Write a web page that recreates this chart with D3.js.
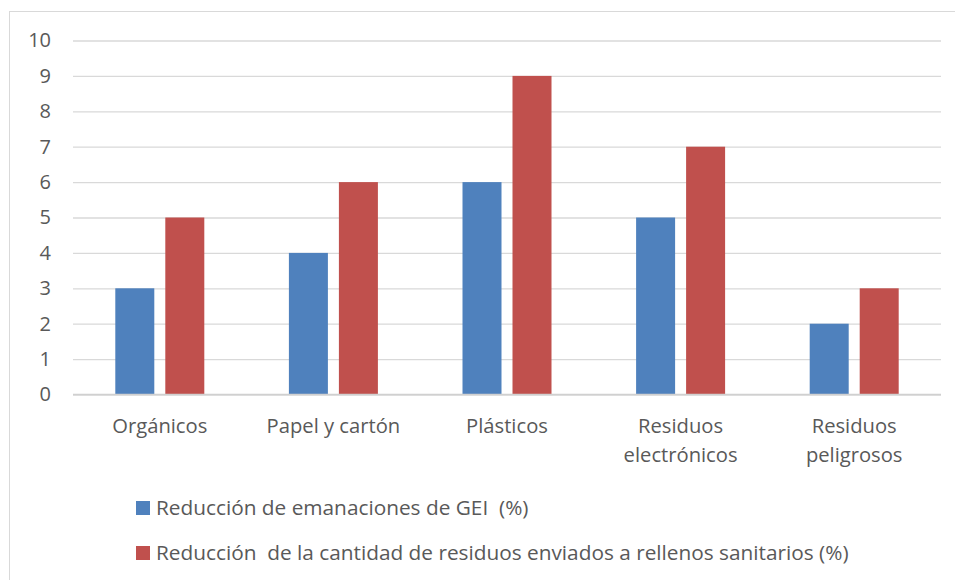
<!DOCTYPE html>
<html>
<head>
<meta charset="utf-8">
<script src="https://cdn.jsdelivr.net/npm/d3@7"></script>
<style>
  html, body { margin: 0; padding: 0; background: #fff; }
  svg { display: block; }
  text { font-family: "Open Sans", sans-serif; fill: #595959; }
</style>
</head>
<body>
<svg id="chart" width="955" height="580"></svg>
<script>
// Chart data
const categories = ["Orgánicos", "Papel y cartón", "Plásticos", "Residuos electrónicos", "Residuos peligrosos"];
const categoryLines = [["Orgánicos"], ["Papel y cartón"], ["Plásticos"], ["Residuos", "electrónicos"], ["Residuos", "peligrosos"]];
const seriesNames = [
  "Reducción de emanaciones de GEI  (%)",
  "Reducción  de la cantidad de residuos enviados a rellenos sanitarios (%)"
];
const emisionesGEI = [3, 4, 6, 5, 2];
const residuosRellenos = [5, 6, 9, 7, 3];
const yTicks = [0, 1, 2, 3, 4, 5, 6, 7, 8, 9, 10];
const seriesColors = ["#4F81BD", "#C0504D"];

const FONT = "'Open Sans', sans-serif";
const FS = 20.8;

const svg = d3.select("#chart");

// Outer frame
svg.append("rect")
  .attr("x", 9.5).attr("y", 11.5)
  .attr("width", 960).attr("height", 600)
  .attr("fill", "none").attr("stroke", "#d9d9d9").attr("stroke-width", 1);

const plot = { left: 73, right: 941, top: 40.5, bottom: 394.5 };

const y = d3.scaleLinear().domain([0, 10]).range([plot.bottom, plot.top]);

const groupWidth = 89;
const step = (plot.right - plot.left) / categories.length;
const x0 = d3.scaleBand()
  .domain(categories)
  .range([plot.left, plot.right])
  .paddingInner(1 - groupWidth / step)
  .paddingOuter((1 - groupWidth / step) / 2);

const x1 = d3.scaleBand()
  .domain([0, 1])
  .range([0, x0.bandwidth()])
  .paddingInner(0.22)
  .paddingOuter(0);

// Gridlines and value labels
const yAxis = d3.axisLeft(y)
  .tickValues(yTicks)
  .tickSize(-(plot.right - plot.left))
  .tickPadding(22)
  .tickFormat(d3.format("d"));

const gy = svg.append("g")
  .attr("transform", `translate(${plot.left},0)`)
  .call(yAxis);
gy.select(".domain").remove();
gy.selectAll(".tick line")
  .attr("stroke", "#d9d9d9")
  .attr("stroke-width", 1.3);
gy.selectAll(".tick text")
  .attr("font-size", 20)
  .attr("fill", "#595959")
  .attr("font-family", FONT);

// Bars
const series = [emisionesGEI, residuosRellenos];
const groups = svg.append("g").selectAll("g")
  .data(categories)
  .join("g")
  .attr("transform", d => `translate(${x0(d)},0)`);

groups.selectAll("rect")
  .data((d, i) => series.map((s, k) => ({ k, v: s[i] })))
  .join("rect")
  .attr("x", d => x1(d.k))
  .attr("width", x1.bandwidth())
  .attr("y", d => y(d.v))
  .attr("height", d => y(0) - y(d.v))
  .attr("fill", d => seriesColors[d.k]);

// Baseline
svg.append("line")
  .attr("x1", plot.left).attr("x2", plot.right)
  .attr("y1", y(0)).attr("y2", y(0))
  .attr("stroke", "#d0d0d0").attr("stroke-width", 1.5);

// Category labels
const catG = svg.append("g");
categories.forEach((c, i) => {
  const cx = x0(c) + x0.bandwidth() / 2;
  const t = catG.append("text")
    .attr("x", cx)
    .attr("y", 433)
    .attr("text-anchor", "middle")
    .attr("font-size", FS - 0.6);
  categoryLines[i].forEach((line, j) => {
    t.append("tspan").attr("x", cx).attr("dy", j === 0 ? 0 : 29).text(line);
  });
});

// Legend
const legend = svg.append("g");
seriesNames.forEach((name, i) => {
  const ly = 508 + i * 45;
  legend.append("rect")
    .attr("x", 136).attr("y", ly - 7)
    .attr("width", 14).attr("height", 14)
    .attr("fill", seriesColors[i]);
  legend.append("text")
    .attr("x", 156).attr("y", ly + 7)
    .attr("font-size", FS)
    .style("white-space", "pre")
    .text(name);
});
</script>
</body>
</html>
